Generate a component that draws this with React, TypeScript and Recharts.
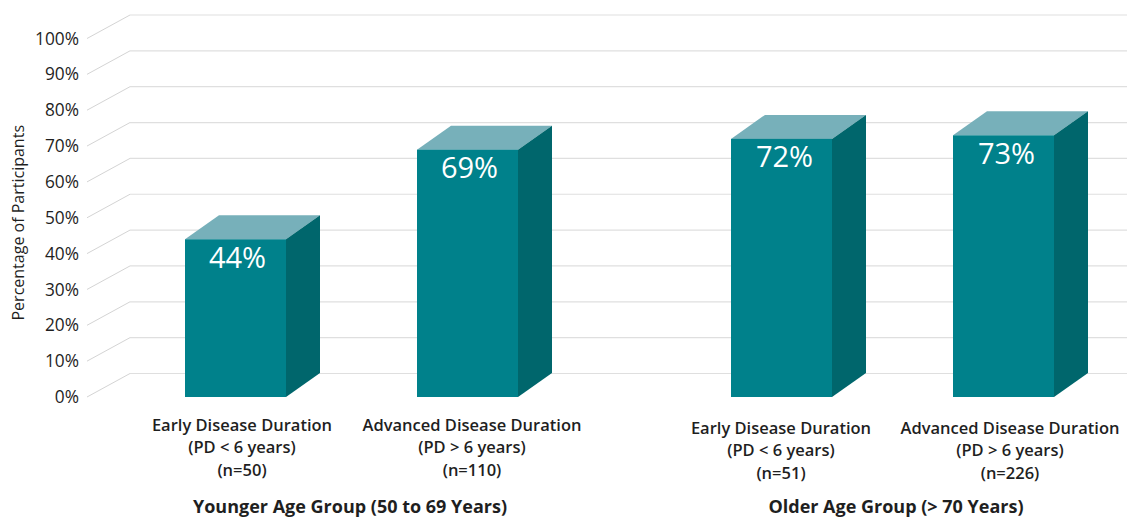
import React from "react";
import { Bar, BarChart, CartesianGrid, LabelList, Label, XAxis, YAxis } from "recharts";

const WIDTH = 1127;
const HEIGHT = 517;
const FONT = "'Open Sans', sans-serif";
const INK = "#1f1f1f";

const percentTicks = [0, 10, 20, 30, 40, 50, 60, 70, 80, 90, 100];

const durationLabels = ["Early Disease Duration", "Advanced Disease Duration"];
const durationRanges = ["(PD < 6 years)", "(PD > 6 years)"];

const youngerCounts = ["(n=50)", "(n=110)"];
const youngerValues = [44, 69];
const olderCounts = ["(n=51)", "(n=226)"];
const olderValues = [72, 73];

const youngerRows = durationLabels.map((name, i) => ({
  name,
  range: durationRanges[i],
  count: youngerCounts[i],
  value: youngerValues[i],
}));
const olderRows = durationLabels.map((name, i) => ({
  name,
  range: durationRanges[i],
  count: olderCounts[i],
  value: olderValues[i],
}));

// Oblique projection used for the floor, the back wall and the bar depth.
const BAR_DEPTH_X = 34;
const BAR_DEPTH_Y = 24;
const WALL_DEPTH_X = 43;
const WALL_DEPTH_Y = 23.5;

const Box = ({ x, y, width, height }: any) => {
  const right = x + width;
  const bottom = y + height;
  const top = `${x},${y} ${x + BAR_DEPTH_X},${y - BAR_DEPTH_Y} ${right + BAR_DEPTH_X},${y - BAR_DEPTH_Y} ${right},${y}`;
  const side = `${right},${y} ${right + BAR_DEPTH_X},${y - BAR_DEPTH_Y} ${right + BAR_DEPTH_X},${bottom - BAR_DEPTH_Y} ${right},${bottom}`;
  return (
    <g>
      <polygon points={top} fill="#77b0ba" />
      <polygon points={side} fill="#00666c" />
      <rect x={x} y={y} width={width} height={height} fill="#00818b" />
    </g>
  );
};

// A gridline runs from the front edge up the side wall, then along the back wall.
const WallLine = ({ y1, index }: any) => {
  const frontX = 87;
  const backX = frontX + WALL_DEPTH_X;
  const backY = y1 - WALL_DEPTH_Y;
  return (
    <g key={index}>
      <line x1={frontX} y1={y1} x2={backX} y2={backY} stroke="#d4d4d4" strokeWidth={1} />
      <line x1={backX} y1={backY} x2={WIDTH} y2={backY} stroke="#dfdfdf" strokeWidth={1.2} />
    </g>
  );
};

const makeTick = (rows: typeof youngerRows, nudges: number[], lift: number) => ({ x, y, payload, index }: any) => {
  const row = rows[index];
  const cx = x + nudges[index];
  const style = { fontFamily: FONT, fontSize: 16.5, fontWeight: 600, fill: INK };
  return (
    <g key={payload.value}>
      <text x={cx} y={y + 26 + lift} textAnchor="middle" style={style}>{row.name}</text>
      <text x={cx} y={y + 48 + lift} textAnchor="middle" style={style}>{row.range}</text>
      <text x={cx} y={y + 71 + lift} textAnchor="middle" style={style}>{row.count}</text>
    </g>
  );
};

const titleStyle = { fontFamily: FONT, fontSize: 18, fontWeight: 700, fill: INK };
const valueStyle = { fontFamily: FONT, fontSize: 29, fontWeight: 500, fill: "#ffffff" };

const panel: React.CSSProperties = { position: "absolute", left: 0, top: 0 };

export default function App() {
  return (
    <div style={{ position: "absolute", left: 0, top: 0, width: WIDTH, height: HEIGHT, overflow: "hidden", background: "#fff" }}>
      <div style={panel}>
        <BarChart
          width={WIDTH}
          height={HEIGHT}
          data={youngerRows}
          margin={{ top: 38.5, right: 544, bottom: 0, left: 0 }}
        >
          <CartesianGrid vertical={false} horizontal={(p: any) => <WallLine {...p} />} />
          <XAxis
            dataKey="name"
            height={120}
            axisLine={false}
            tickLine={false}
            interval={0}
            tick={makeTick(youngerRows, [7, 5], 0)}
          >
            <Label value="Younger Age Group (50 to 69 Years)" position="insideBottom" offset={4} dx={-1} style={titleStyle} />
          </XAxis>
          <YAxis
            width={119}
            domain={[0, 100]}
            ticks={percentTicks}
            interval={0}
            axisLine={false}
            tickLine={false}
            tickMargin={34}
            tickFormatter={(v: number) => `${v}%`}
            tick={{ fontFamily: FONT, fontSize: 17.3, fontWeight: 400, fill: INK }}
          >
            <Label
              value="Percentage of Participants"
              angle={-90}
              position="insideLeft"
              dx={13}
              dy={5}
              style={{ fontFamily: FONT, fontSize: 16, fontWeight: 400, fill: INK, textAnchor: "middle" }}
            />
          </YAxis>
          <Bar dataKey="value" barSize={101} shape={<Box />} isAnimationActive={false}>
            <LabelList dataKey="value" position="insideTop" offset={8} dx={2} formatter={(v: number) => `${v}%`} style={valueStyle} />
          </Bar>
        </BarChart>
      </div>
      <div style={panel}>
        <BarChart
          width={WIDTH}
          height={HEIGHT}
          data={olderRows}
          margin={{ top: 38.5, right: 13, bottom: 0, left: 670 }}
        >
          <XAxis
            dataKey="name"
            height={120}
            axisLine={false}
            tickLine={false}
            interval={0}
            tick={makeTick(olderRows, [0, 7], 3)}
          >
            <Label value="Older Age Group (> 70 Years)" position="insideBottom" offset={4} dx={4} style={titleStyle} />
          </XAxis>
          <YAxis hide domain={[0, 100]} ticks={percentTicks} />
          <Bar dataKey="value" barSize={101} shape={<Box />} isAnimationActive={false}>
            <LabelList dataKey="value" position="insideTop" offset={8} dx={3} formatter={(v: number) => `${v}%`} style={valueStyle} />
          </Bar>
        </BarChart>
      </div>
    </div>
  );
}
